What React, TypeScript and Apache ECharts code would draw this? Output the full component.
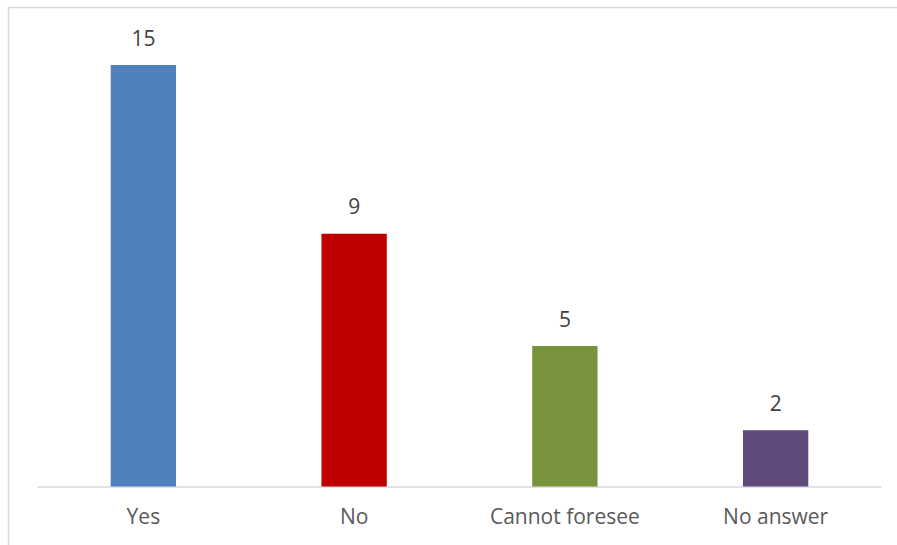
import React, { useEffect, useRef } from "react";
import * as echarts from "echarts";

const categories = ["Yes", "No", "Cannot foresee", "No answer"];
const values = [15, 9, 5, 2];
const barColors = ["#4F81BD", "#C00000", "#77933C", "#604A7B"];

export default function App() {
  const ref = useRef<HTMLDivElement>(null);
  useEffect(() => {
    if (!ref.current) return;
    const chart = echarts.init(ref.current, undefined, { renderer: "svg" });
    chart.setOption({
      animation: false,
      backgroundColor: "#ffffff",
      textStyle: { fontFamily: "Open Sans" },
      graphic: [
        {
          type: "rect",
          shape: { x: 8.5, y: 7.5, width: 1000, height: 1000 },
          style: { fill: "none", stroke: "#D9D9D9", lineWidth: 1.5 },
          silent: true,
        },
      ],
      grid: { left: 38, right: 16, top: 37, bottom: 58.5, containLabel: false },
      xAxis: {
        type: "category",
        data: categories,
        axisTick: { show: false },
        axisLine: { lineStyle: { color: "#D9D9D9", width: 1.5 } },
        axisLabel: { color: "#595959", fontSize: 21, margin: 19, fontFamily: "Open Sans" },
      },
      yAxis: {
        type: "value",
        min: 0,
        max: 16,
        show: false,
        splitLine: { show: false },
      },
      series: [
        {
          type: "bar",
          barWidth: "31%",
          data: values.map((v, i) => ({ value: v, itemStyle: { color: barColors[i] } })),
          label: {
            show: true,
            position: "top",
            distance: 17,
            color: "#404040",
            fontSize: 21,
            fontFamily: "Open Sans",
          },
        },
      ],
    });
    return () => chart.dispose();
  }, []);
  return (
    <div
      ref={ref}
      style={{ position: "absolute", left: 0, top: 0, width: 897, height: 545 }}
    />
  );
}
